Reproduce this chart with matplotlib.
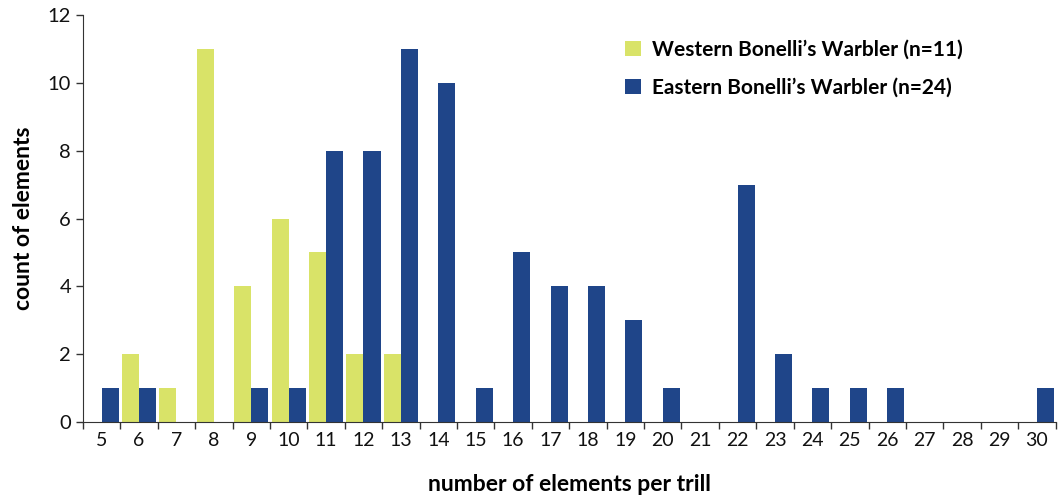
import numpy as np
import matplotlib
matplotlib.use('Agg')
import matplotlib.pyplot as plt

plt.rcParams['font.family'] = ['Lato', 'DejaVu Sans']

# elements per trill, 5..30
categories = list(range(5, 31))
western = [0, 2, 1, 11, 4, 6, 5, 2, 2, 0, 0, 0, 0, 0, 0, 0, 0, 0, 0, 0, 0, 0, 0, 0, 0, 0]
eastern = [1, 1, 0, 0, 1, 1, 8, 8, 11, 10, 1, 5, 4, 4, 3, 1, 0, 7, 2, 1, 1, 1, 0, 0, 0, 1]
y_ticks = [0, 2, 4, 6, 8, 10, 12]

west_color = '#d9e368'
east_color = '#1f4589'

fig = plt.figure(figsize=(10.63, 5.0), dpi=100)
ax = fig.add_axes([0.078, 0.156, 0.915, 0.814])

x = np.arange(len(categories))
w = 0.455
ax.bar(x, western, width=-w, align='edge', color=west_color,
       label="Western Bonelli\u2019s Warbler (n=11)")
ax.bar(x, eastern, width=w, align='edge', color=east_color,
       label="Eastern Bonelli\u2019s Warbler (n=24)")

ax.set_xlim(-0.5, len(categories) - 0.5)
ax.set_ylim(0, 12)
ax.set_yticks(y_ticks)
ax.tick_params(axis='y', labelsize=14.5, length=5, width=1, colors='#333333', labelcolor='#111111')

# ticks at slot boundaries, labels in the slot centres
ax.set_xticks(np.arange(-0.5, len(categories), 1.0))
ax.set_xticklabels([])
ax.tick_params(axis='x', which='major', length=5, width=1, colors='#333333')
ax.set_xticks(x, minor=True)
ax.set_xticklabels([str(c) for c in categories], minor=True)
ax.tick_params(axis='x', which='minor', length=0, labelsize=14, pad=7, labelcolor='#111111')

for s in ['top', 'right']:
    ax.spines[s].set_visible(False)
for s in ['left', 'bottom']:
    ax.spines[s].set_color('#333333')

ax.set_xlabel('number of elements per trill', fontsize=16.5, fontweight='bold', labelpad=18)
ax.set_ylabel('count of elements', fontsize=16.5, fontweight='bold', labelpad=10)

leg = ax.legend(loc='upper left', bbox_to_anchor=(0.538, 0.985), frameon=False,
                handlelength=0.75, handleheight=0.75, handletextpad=0.55,
                labelspacing=0.85, prop={'weight': 'bold', 'size': 15})

plt.savefig('out.png', dpi=100)
